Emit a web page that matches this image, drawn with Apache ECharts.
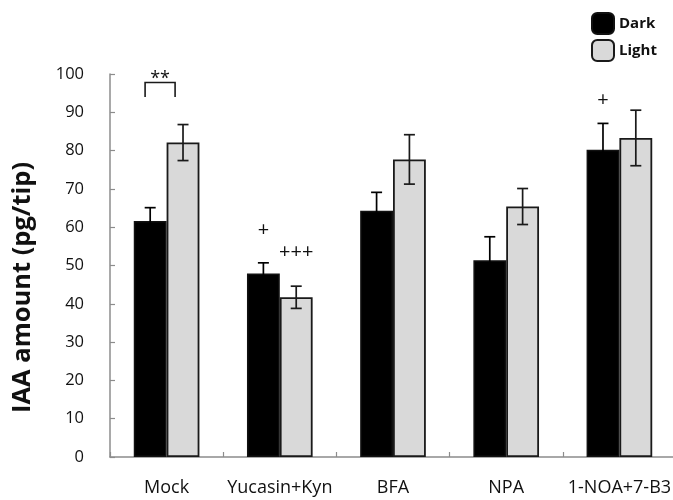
<!DOCTYPE html>
<html>
<head>
<meta charset="utf-8">
<script src="https://cdn.jsdelivr.net/npm/echarts@6/dist/echarts.min.js"></script>
<style>
html,body{margin:0;padding:0;background:#fff;}
#chart{width:673px;height:500px;}
</style>
</head>
<body>
<div id="chart"></div>
<script>
// ---- data ----
const categories = ['Mock', 'Yucasin+Kyn', 'BFA', 'NPA', '1-NOA+7-B3'];
const darkValues = [61.6, 47.9, 64.3, 51.4, 80.2];
const darkErrors = [3.5, 2.8, 4.8, 6.1, 6.9];
const lightValues = [82.1, 41.7, 77.7, 65.4, 83.3];
const lightErrors = [4.7, 2.9, 6.45, 4.7, 7.25];
const yMin = 0, yMax = 100, yStep = 10;
// significance marks: category index, series side (-1 dark, +1 light), y value, text
const markCats = [1, 1, 4];
const markSides = [-1, 1, -1];
const markValues = [59.2, 53.5, 93.2];
const markTexts = ['+', '+++', '+'];
// bracket between Dark and Light in Mock
const bracketCat = 0;
const bracketTop = 97.8;
const bracketBottom = 94.0;
const bracketText = '**';
const bracketTextValue = 98.6;

const FONT = '"Open Sans", "Liberation Sans", sans-serif';
const BAR_FRAC = 0.29;

const chart = echarts.init(document.getElementById('chart'), null, {renderer: 'canvas'});

function errorSeries(values, errors, side, color) {
  return {
    type: 'custom',
    z: 10,
    silent: true,
    data: values.map((v, i) => [i, v, errors[i]]),
    renderItem: function (params, api) {
      const cat = api.value(0), mean = api.value(1), err = api.value(2);
      const bandW = api.size([1, 0])[0];
      const center = api.coord([cat, mean]);
      const x = center[0] + side * bandW * BAR_FRAC / 2;
      const yTop = api.coord([cat, mean + err])[1];
      const yBot = api.coord([cat, mean - err])[1];
      const cap = 5.5;
      const st = {stroke: color, lineWidth: 1.7};
      return {
        type: 'group',
        children: [
          {type: 'line', shape: {x1: x, y1: yTop, x2: x, y2: yBot}, style: st},
          {type: 'line', shape: {x1: x - cap, y1: yTop, x2: x + cap, y2: yTop}, style: st},
          {type: 'line', shape: {x1: x - cap, y1: yBot, x2: x + cap, y2: yBot}, style: st}
        ]
      };
    }
  };
}

const option = {
  animation: false,
  backgroundColor: '#ffffff',
  grid: {left: 110, top: 74, width: 566, height: 383, containLabel: false, outerBoundsMode: 'none'},
  legend: {
    orient: 'vertical',
    left: 586,
    top: 7,
    itemWidth: 22,
    itemHeight: 21,
    itemGap: 4,
    data: ['Dark', 'Light'],
    textStyle: {fontFamily: FONT, fontWeight: 'bold', fontSize: 15, color: '#111', padding: [0, 0, 0, 0]}
  },
  xAxis: {
    type: 'category',
    data: categories,
    axisLine: {lineStyle: {color: '#8c8c8c', width: 1.5}},
    axisTick: {show: true, inside: true, length: 5, alignWithLabel: false, lineStyle: {color: '#8c8c8c', width: 1.2}},
    axisLabel: {fontFamily: FONT, fontSize: 18, color: '#111', margin: 22, interval: 0}
  },
  yAxis: {
    type: 'value',
    min: yMin,
    max: yMax,
    interval: yStep,
    name: 'IAA amount (pg/tip)',
    nameLocation: 'middle',
    nameGap: 74,
    nameRotate: 90,
    nameTextStyle: {fontFamily: FONT, fontWeight: 'bold', fontSize: 25.5, color: '#111', padding: [0, 0, 0, -44]},
    splitLine: {show: false},
    axisLine: {show: true, lineStyle: {color: '#8c8c8c', width: 1.5}},
    axisTick: {show: true, inside: true, length: 5, lineStyle: {color: '#8c8c8c', width: 1.2}},
    axisLabel: {fontFamily: FONT, fontSize: 16.5, color: '#111', margin: 26}
  },
  series: [
    {
      name: 'Dark',
      type: 'bar',
      data: darkValues,
      barWidth: (BAR_FRAC * 100) + '%',
      barGap: '0%',
      itemStyle: {color: '#000000', borderColor: '#111', borderWidth: 1.5}
    },
    {
      name: 'Light',
      type: 'bar',
      data: lightValues,
      barWidth: (BAR_FRAC * 100) + '%',
      barGap: '0%',
      itemStyle: {color: '#d9d9d9', borderColor: '#1a1a1a', borderWidth: 1.8}
    },
    errorSeries(darkValues, darkErrors, -1, '#000000'),
    errorSeries(lightValues, lightErrors, 1, '#1a1a1a'),
    {
      type: 'custom',
      z: 11,
      silent: true,
      data: markCats.map((c, i) => [c, markValues[i], markSides[i]]),
      renderItem: function (params, api) {
        const cat = api.value(0), val = api.value(1), side = api.value(2);
        const bandW = api.size([1, 0])[0];
        const p = api.coord([cat, val]);
        return {
          type: 'text',
          x: p[0] + side * bandW * BAR_FRAC / 2,
          y: p[1],
          style: {text: markTexts[params.dataIndex], fontFamily: FONT, fontSize: 20, fill: '#111', align: 'center', verticalAlign: 'middle'}
        };
      }
    },
    {
      type: 'custom',
      z: 11,
      silent: true,
      data: [[bracketCat, bracketTop, bracketBottom, bracketTextValue]],
      renderItem: function (params, api) {
        const cat = api.value(0);
        const bandW = api.size([1, 0])[0];
        const pt = api.coord([cat, api.value(1)]);
        const yb = api.coord([cat, api.value(2)])[1];
        const yt = api.coord([cat, api.value(3)])[1];
        const x1 = pt[0] - bandW * 0.19;
        const x2 = pt[0] + bandW * 0.075;
        return {
          type: 'group',
          children: [
            {type: 'polyline', shape: {points: [[x1, yb], [x1, pt[1]], [x2, pt[1]], [x2, yb]]}, style: {stroke: '#1a1a1a', lineWidth: 1.6, fill: null}},
            {type: 'text', x: (x1 + x2) / 2, y: yt, style: {text: bracketText, fontFamily: FONT, fontSize: 18, fill: '#111', align: 'center', verticalAlign: 'middle'}}
          ]
        };
      }
    }
  ]
};
chart.setOption(option);
</script>
</body>
</html>
